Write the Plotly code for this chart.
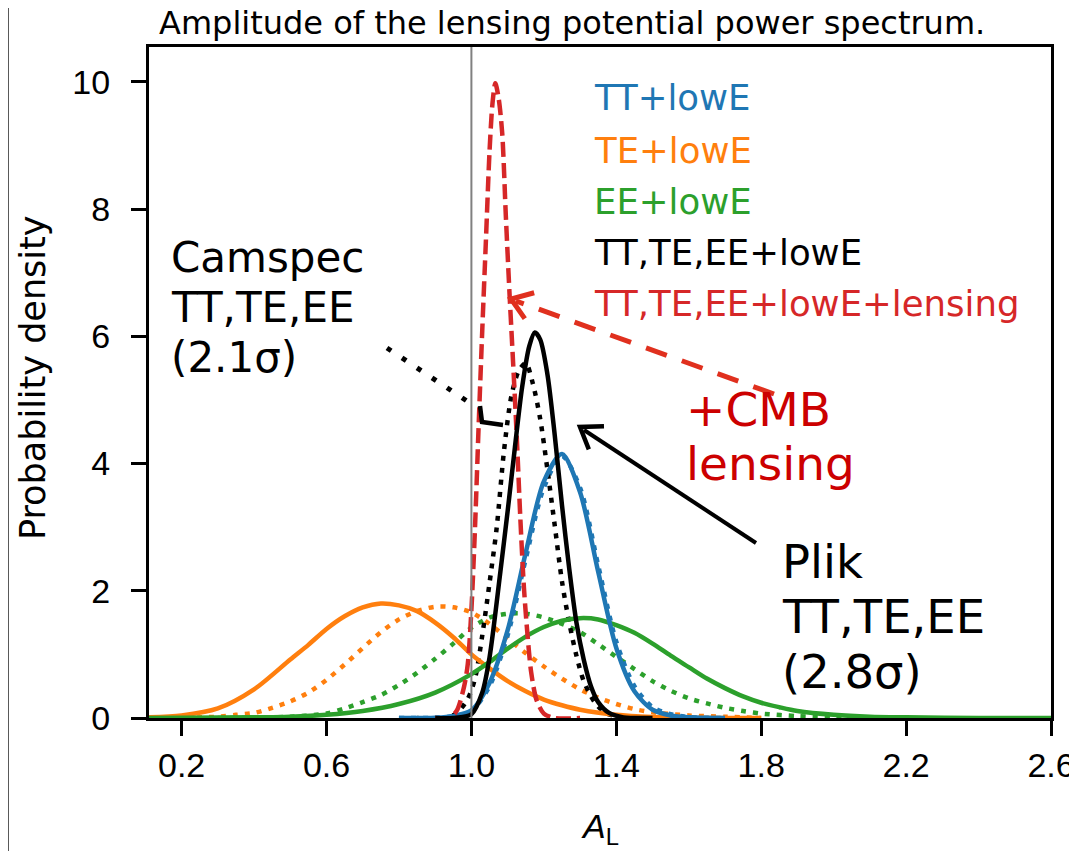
import numpy as np
import plotly.graph_objects as go

# ---------------- data ----------------
# TE+lowE (orange, Plik solid)
x_te = [0.11, 0.2, 0.3, 0.4, 0.5, 0.55, 0.6, 0.65, 0.7, 0.75, 0.8, 0.85, 0.9, 0.95, 1.0,
        1.05, 1.1, 1.15, 1.2, 1.25, 1.3, 1.4, 1.5, 1.6, 1.8]
y_te = [0.01, 0.04, 0.15, 0.45, 0.92, 1.15, 1.40, 1.60, 1.74, 1.80, 1.77, 1.68, 1.50, 1.27, 1.00,
        0.78, 0.58, 0.42, 0.29, 0.20, 0.13, 0.05, 0.015, 0.0, 0.0]
# TE camspec (orange dotted)
x_te_c = [0.11, 0.3, 0.35, 0.4, 0.45, 0.5, 0.55, 0.6, 0.65, 0.7, 0.75, 0.8, 0.85, 0.9, 0.95, 1.0,
          1.05, 1.1, 1.15, 1.2, 1.25, 1.3, 1.35, 1.4, 1.45, 1.5, 1.6, 1.7, 1.8]
y_te_c = [0.0, 0.02, 0.05, 0.08, 0.16, 0.26, 0.40, 0.60, 0.84, 1.10, 1.35, 1.55, 1.68, 1.75, 1.74, 1.66,
          1.48, 1.25, 1.02, 0.81, 0.62, 0.45, 0.32, 0.22, 0.14, 0.09, 0.04, 0.02, 0.0]
# EE+lowE (green solid)
x_ee = [0.11, 0.4, 0.5, 0.6, 0.7, 0.8, 0.9, 1.0, 1.05, 1.1, 1.15, 1.2, 1.25, 1.3, 1.35, 1.4, 1.45,
        1.5, 1.55, 1.6, 1.65, 1.7, 1.75, 1.8, 1.85, 1.9, 2.0, 2.1, 2.2, 2.4, 2.6]
y_ee = [0.0, 0.01, 0.02, 0.05, 0.11, 0.22, 0.40, 0.69, 0.88, 1.09, 1.28, 1.43, 1.53, 1.57, 1.55, 1.46, 1.34,
        1.17, 0.98, 0.80, 0.62, 0.47, 0.34, 0.24, 0.17, 0.11, 0.05, 0.02, 0.01, 0.0, 0.0]
# EE camspec (green dotted)
x_ee_c = [0.3, 0.5, 0.6, 0.65, 0.7, 0.75, 0.8, 0.85, 0.9, 0.95, 1.0, 1.05, 1.1, 1.15, 1.2, 1.25, 1.3,
          1.35, 1.4, 1.45, 1.5, 1.55, 1.6, 1.65, 1.7, 1.75, 1.8, 1.9, 2.0, 2.1]
y_ee_c = [0.0, 0.02, 0.07, 0.15, 0.25, 0.36, 0.52, 0.71, 0.93, 1.17, 1.42, 1.58, 1.64, 1.64, 1.58, 1.48, 1.35,
          1.16, 0.96, 0.77, 0.58, 0.43, 0.31, 0.23, 0.16, 0.11, 0.07, 0.03, 0.01, 0.0]
# TT+lowE (blue solid)
x_tt = [0.8, 0.9, 0.95, 1.0, 1.05, 1.1, 1.15, 1.2, 1.25, 1.3, 1.35, 1.4, 1.45, 1.5, 1.55, 1.6, 1.7]
y_tt = [0.0, 0.005, 0.03, 0.12, 0.55, 1.38, 2.60, 3.72, 4.15, 3.55, 2.30, 1.10, 0.42, 0.13, 0.04, 0.01, 0.0]
# TT camspec (blue dotted)
x_tt_c = [0.8, 0.9, 0.95, 1.0, 1.05, 1.1, 1.15, 1.2, 1.25, 1.3, 1.35, 1.4, 1.45, 1.5, 1.55, 1.6, 1.7]
y_tt_c = [0.0, 0.005, 0.03, 0.11, 0.50, 1.30, 2.50, 3.62, 4.12, 3.62, 2.40, 1.20, 0.50, 0.17, 0.06, 0.015, 0.0]
# TT,TE,EE+lowE (black solid, Plik)
x_all = [0.9, 0.95, 1.0, 1.03, 1.05, 1.08, 1.1, 1.12, 1.14, 1.16, 1.175, 1.19, 1.21, 1.23, 1.25,
         1.27, 1.29, 1.31, 1.33, 1.35, 1.38, 1.42, 1.5]
y_all = [0.0, 0.0, 0.06, 0.40, 0.95, 2.30, 3.25, 4.25, 5.20, 5.85, 6.06, 5.95, 5.40, 4.45, 3.35,
         2.35, 1.50, 0.92, 0.50, 0.25, 0.08, 0.01, 0.0]
# TT,TE,EE camspec (black dotted)
x_all_c = [0.85, 0.93, 0.96, 0.99, 1.01, 1.03, 1.05, 1.07, 1.09, 1.11, 1.13, 1.15, 1.17, 1.19, 1.21,
           1.23, 1.25, 1.27, 1.29, 1.31, 1.34, 1.37, 1.42]
y_all_c = [0.0, 0.0, 0.08, 0.30, 0.62, 1.30, 2.12, 3.00, 4.20, 5.05, 5.45, 5.58, 5.25, 4.70, 3.90,
           3.03, 2.15, 1.50, 0.98, 0.58, 0.25, 0.08, 0.0]
# TT,TE,EE+lowE+lensing (red dashed)
x_lens = [0.9, 0.94, 0.96, 0.98, 0.99, 1.0, 1.01, 1.02, 1.03, 1.04, 1.05, 1.058, 1.066, 1.075, 1.085,
          1.095, 1.105, 1.115, 1.125, 1.135, 1.145, 1.155, 1.165, 1.18, 1.2, 1.23, 1.3]
y_lens = [0.0, 0.0, 0.12, 0.50, 0.85, 1.70, 3.00, 4.60, 6.10, 7.50, 8.90, 9.65, 9.98, 9.75, 9.20,
          7.90, 6.70, 5.60, 4.45, 3.15, 2.05, 1.30, 0.72, 0.28, 0.07, 0.0, 0.0]

legend_labels = ["TT+lowE", "TE+lowE", "EE+lowE", "TT,TE,EE+lowE", "TT,TE,EE+lowE+lensing"]
x_ticks = [0.2, 0.6, 1.0, 1.4, 1.8, 2.2, 2.6]
x_ticktext = ["0.2", "0.6", "1.0", "1.4", "1.8", "2.2", "2.6"]
y_ticks = [0, 2, 4, 6, 8, 10]
REF_AL = 1.0

# ---------------- styling ----------------
BLUE, ORANGE, GREEN, RED, BLACK = "#1f77b4", "#ff7f0e", "#2ca02c", "#d62728", "#000000"
W, H = 1077, 851
OFF = 8                      # page body margin of the html page
L, R, T, B = 149, 1051, 47, 718   # plot area in screen pixels


def px(x):
    return (x - L) / (R - L)


def py(y):
    return (B - y) / (B - T)


DOT = "5px,7px"
DASH = "15px,6px"
LW = 4.5

fig = go.Figure()


def add(x, y, color, dash="solid"):
    fig.add_trace(go.Scatter(x=x, y=y, mode="lines",
                             line=dict(color=color, width=LW, dash=dash, shape="spline", smoothing=0.8),
                             showlegend=False, hoverinfo="skip"))


add(x_te_c, y_te_c, ORANGE, DOT)
add(x_ee_c, y_ee_c, GREEN, DOT)
add(x_tt_c, y_tt_c, BLUE, DOT)
add(x_all_c, y_all_c, BLACK, DOT)
add(x_te, y_te, ORANGE)
add(x_ee, y_ee, GREEN)
add(x_tt, y_tt, BLUE)
add(x_lens, y_lens, RED, DASH)
add(x_all, y_all, BLACK)

shapes = []
# reference line at A_L = 1
shapes.append(dict(type="line", xref="x", yref="paper", x0=REF_AL, x1=REF_AL, y0=0, y1=1,
                   line=dict(color="#808080", width=2), layer="above"))
# slide border at far left
shapes.append(dict(type="line", xref="paper", yref="paper", x0=px(8), x1=px(8), y0=py(0), y1=py(851),
                   line=dict(color="#222222", width=1.5)))


def seg(p0, p1, color, width, dash="solid"):
    shapes.append(dict(type="line", xref="paper", yref="paper",
                       x0=px(p0[0]), y0=py(p0[1]), x1=px(p1[0]), y1=py(p1[1]),
                       line=dict(color=color, width=width, dash=dash)))


def polyline(pts, color, width):
    path = "M " + " L ".join(f"{px(a):.5f},{py(b):.5f}" for a, b in pts)
    shapes.append(dict(type="path", xref="paper", yref="paper", path=path,
                       line=dict(color=color, width=width)))


def chevron(start, tip, color, width, length=24, ang=35):
    d = np.arctan2(start[1] - tip[1], start[0] - tip[0])
    a1 = d + np.radians(ang)
    a2 = d - np.radians(ang)
    p1 = (tip[0] + length * np.cos(a1), tip[1] + length * np.sin(a1))
    p2 = (tip[0] + length * np.cos(a2), tip[1] + length * np.sin(a2))
    polyline([p1, tip, p2], color, width)


ARROW_RED = "#e0301e"
# +CMB lensing arrow (dashed red)
seg((774, 394), (516, 301), ARROW_RED, 5, "22px,16px")
chevron((774, 394), (511, 299), ARROW_RED, 5)
# Plik arrow (solid black)
seg((756, 543), (584, 430), BLACK, 4)
chevron((756, 543), (580, 427), BLACK, 4.5)
# Camspec arrow (dotted black)
seg((387, 348), (470, 403), BLACK, 5, "5px,13px")
polyline([(480, 406), (482, 422), (503, 425)], BLACK, 4.5)

ann = []


def text(s, xp, yp, size, color=BLACK, family="DejaVu Sans", xanchor="left", angle=0):
    ann.append(dict(text=s, xref="paper", yref="paper", x=px(xp), y=py(yp), xanchor=xanchor,
                    yanchor="middle", showarrow=False, textangle=angle,
                    font=dict(family=family, size=size, color=color)))


# title
text("Amplitude of the lensing potential power spectrum.", 572, 23, 32, xanchor="center")
# axis titles
text("Probability density", 33, 378, 35, xanchor="center", angle=-90)
text("<i>A</i><sub>L</sub>", 600, 828, 34, family="Liberation Sans", xanchor="center")
# legend-like labels
for lab, col, yc in zip(legend_labels, [BLUE, ORANGE, GREEN, BLACK, RED], [98, 150, 201, 252, 303]):
    text(lab, 592, yc, 35.5, col)
# Camspec
for s, yc in zip(["Camspec", "TT,TE,EE", "(2.1σ)"], [257, 307, 357]):
    text(s, 169, yc, 42)
# Plik
for s, yc in zip(["Plik", "TT,TE,EE", "(2.8σ)"], [562, 617, 672]):
    text(s, 780, yc, 46.5)
# +CMB lensing
for s, yc in zip(["+CMB", "lensing"], [410, 463]):
    text(s, 684, yc, 47, "#cc0000")

fig.update_layout(
    width=W, height=H,
    margin=dict(l=L - OFF, r=W - (R - OFF), t=T - OFF, b=H - (B - OFF), pad=0),
    plot_bgcolor="white", paper_bgcolor="white",
    shapes=shapes, annotations=ann, showlegend=False,
    xaxis=dict(range=[0.11, 2.6], tickvals=x_ticks, ticktext=x_ticktext,
               ticks="outside", ticklen=15, tickwidth=3, tickcolor="black",
               showline=True, linecolor="black", linewidth=3, mirror=True,
               showgrid=False, zeroline=False, automargin=False,
               tickfont=dict(family="Liberation Sans", size=34, color="black")),
    yaxis=dict(range=[0, 10.55], tickvals=y_ticks,
               ticks="outside", ticklen=15, tickwidth=3, tickcolor="black",
               showline=True, linecolor="black", linewidth=3, mirror=True,
               showgrid=False, zeroline=False, automargin=False, ticklabelstandoff=14,
               tickfont=dict(family="Liberation Sans", size=34, color="black")),
)

fig.write_html("out.html")
